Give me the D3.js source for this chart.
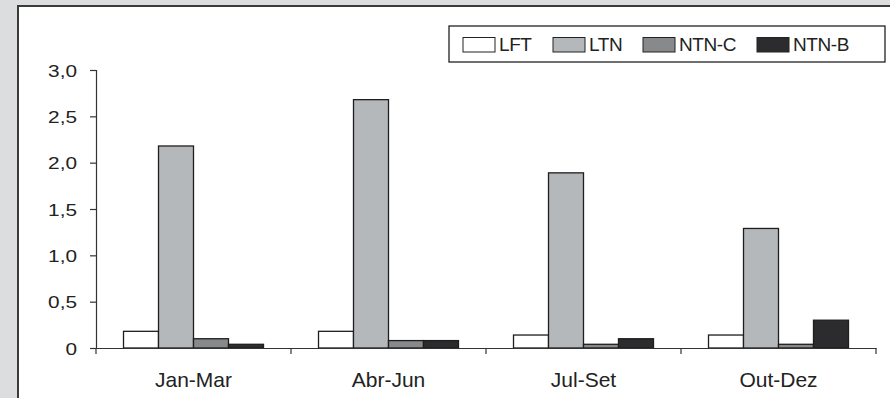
<!DOCTYPE html>
<html>
<head>
<meta charset="utf-8">
<script src="https://cdn.jsdelivr.net/npm/d3@7"></script>
<style>
html,body{margin:0;padding:0;background:#dcdddf;}
svg{display:block;}
</style>
</head>
<body>
<svg id="chart" width="890" height="398"></svg>
<script>
const categories = ["Jan-Mar", "Abr-Jun", "Jul-Set", "Out-Dez"];
const seriesNames = ["LFT", "LTN", "NTN-C", "NTN-B"];
const LFT = [0.18, 0.18, 0.14, 0.14];
const LTN = [2.18, 2.68, 1.89, 1.29];
const NTNC = [0.10, 0.08, 0.04, 0.04];
const NTNB = [0.04, 0.08, 0.10, 0.30];
const yTicks = [0, 0.5, 1.0, 1.5, 2.0, 2.5, 3.0];
const colors = ["#ffffff", "#b5b8bb", "#87898b", "#2c2c2e"];

const seriesValues = [LFT, LTN, NTNC, NTNB];

const svg = d3.select("#chart");
const font = "'Liberation Sans', Arial, sans-serif";

// panel
svg.append("rect").attr("x", 0).attr("y", 0).attr("width", 890).attr("height", 398).attr("fill", "#dcdddf");
svg.append("rect").attr("x", 18).attr("y", 6).attr("width", 900).attr("height", 420)
  .attr("fill", "#ffffff").attr("stroke", "#3a3a3a").attr("stroke-width", 2);

const margin = {left: 96, right: 876, top: 70, bottom: 348};

const x = d3.scaleBand().domain(categories).range([margin.left, margin.right]).paddingInner(0).paddingOuter(0);
const x1 = d3.scaleBand().domain(seriesNames).range([0, x.bandwidth()]).paddingOuter(0.786).paddingInner(0);
const y = d3.scaleLinear().domain([0, 3]).range([margin.bottom, margin.top]);

// bars
const g = svg.append("g");
categories.forEach((c, i) => {
  seriesNames.forEach((s, j) => {
    const v = seriesValues[j][i];
    g.append("rect")
      .attr("x", x(c) + x1(s))
      .attr("y", y(v))
      .attr("width", x1.bandwidth())
      .attr("height", y(0) - y(v))
      .attr("fill", colors[j])
      .attr("stroke", "#1e1e1e")
      .attr("stroke-width", 1.3);
  });
});

// y axis
const yAxis = d3.axisLeft(y).tickValues(yTicks).tickSize(6).tickPadding(13)
  .tickFormat(d => d === 0 ? "0" : d3.format(".1f")(d).replace(".", ","));
const ya = svg.append("g").attr("transform", `translate(${margin.left},0)`).call(yAxis);
ya.select(".domain").attr("stroke", "#333").attr("stroke-width", 1.2);
ya.selectAll(".tick line").attr("stroke", "#333").attr("stroke-width", 1.2);
ya.selectAll("text").attr("font-family", font).attr("font-size", 16).attr("fill", "#222")
  .attr("x", null).attr("dy", null).attr("y", 6)
  .attr("transform", "translate(-19,0) scale(1.3,1)");

// x axis
const xAxis = d3.axisBottom(x).tickSize(0).tickPadding(0);
const xa = svg.append("g").attr("transform", `translate(0,${margin.bottom})`).call(xAxis);
xa.select(".domain").attr("stroke", "#333").attr("stroke-width", 1.2);
xa.selectAll("text").attr("font-family", font).attr("font-size", 21).attr("fill", "#222")
  .attr("dy", null).attr("y", 38.5);
// category separators
const seps = categories.map(c => x(c)).concat([x(categories[categories.length - 1]) + x.bandwidth()]);
xa.selectAll(".sep").data(seps).enter().append("line")
  .attr("x1", d => d).attr("x2", d => d).attr("y1", 0).attr("y2", 6)
  .attr("stroke", "#333").attr("stroke-width", 1.2);

// legend
const lg = svg.append("g");
lg.append("rect").attr("x", 449).attr("y", 26).attr("width", 436).attr("height", 36)
  .attr("fill", "#fff").attr("stroke", "#222").attr("stroke-width", 1.3);
const legendX = [463, 553, 643, 757];
seriesNames.forEach((s, j) => {
  lg.append("rect").attr("x", legendX[j]).attr("y", 37.5).attr("width", 32).attr("height", 14.5)
    .attr("fill", colors[j]).attr("stroke", "#222").attr("stroke-width", 1);
  lg.append("text").attr("x", legendX[j] + 36).attr("y", 51).text(s)
    .attr("font-family", font).attr("font-size", 19).attr("fill", "#222").attr("letter-spacing", -0.4);
});
</script>
</body>
</html>
